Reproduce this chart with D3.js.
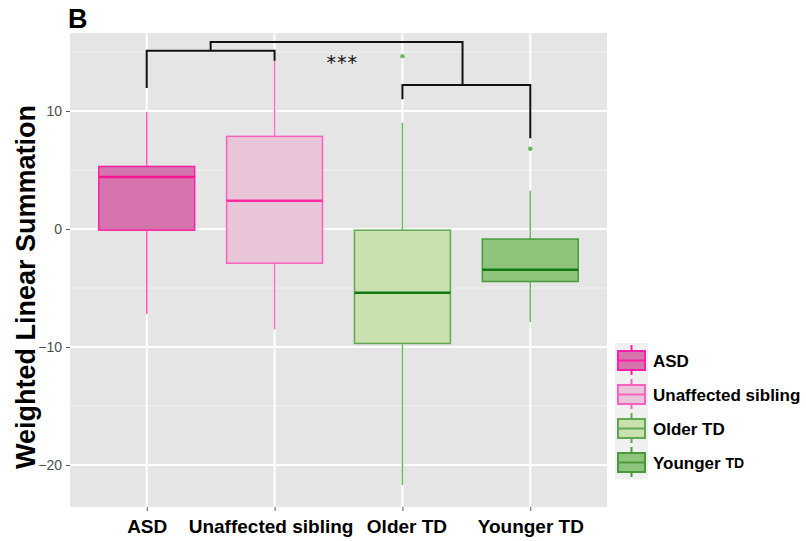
<!DOCTYPE html>
<html>
<head>
<meta charset="utf-8">
<script src="https://cdn.jsdelivr.net/npm/d3@7"></script>
<style>
  body { margin: 0; background: #fff; }
  svg text { font-family: "Liberation Sans", Arial, sans-serif; }
</style>
</head>
<body>
<div id="chart"></div>
<script>
// data
const categories = ["ASD", "Unaffected sibling", "Older TD", "Younger TD"];
const whiskerLow  = [-7.2, -8.5, -21.7, -7.9];
const q1          = [-0.1, -2.9, -9.7, -4.45];
const medians     = [4.4, 2.4, -5.4, -3.45];
const q3          = [5.3, 7.85, -0.1, -0.85];
const whiskerHigh = [9.9, 14.25, 9.0, 3.25];
const outliers    = [[], [], [14.65], [6.8]];
const yTicks      = [-20, -10, 0, 10];
const yMinor      = [-15, -5, 5, 15];

// styles per group
const fills    = ["#d574ad", "#e8c5d8", "#c9e1ae", "#8fc47c"];
const strokes  = ["#ff1fa6", "#f862be", "#62a853", "#4a9a3c"];
const medCols  = ["#ff1493", "#ff2aa0", "#0e7a0e", "#0e7a0e"];
const whisCols = ["#ff52b8", "#ff6cc4", "#6eb862", "#68b45c"];

const W = 806, H = 541;
const panel = {left: 70, top: 33, right: 607, bottom: 507};

const svg = d3.select("#chart").append("svg")
    .attr("width", W)
    .attr("height", H);

// scales
const x = d3.scalePoint()
    .domain(categories)
    .range([panel.left, panel.right])
    .padding(0.6);
const y = d3.scaleLinear()
    .domain([-23.56, 16.61])
    .range([panel.bottom, panel.top]);
const boxW = x.step() * 0.75;

// panel background + grid
svg.append("rect")
    .attr("x", panel.left).attr("y", panel.top)
    .attr("width", panel.right - panel.left)
    .attr("height", panel.bottom - panel.top)
    .attr("fill", "#e5e5e5");

svg.append("g").selectAll("line")
    .data(yMinor)
    .join("line")
    .attr("x1", panel.left).attr("x2", panel.right)
    .attr("y1", d => y(d)).attr("y2", d => y(d))
    .attr("stroke", "#f2f2f2").attr("stroke-width", 1);

svg.append("g").selectAll("line")
    .data(yTicks)
    .join("line")
    .attr("x1", panel.left).attr("x2", panel.right)
    .attr("y1", d => y(d)).attr("y2", d => y(d))
    .attr("stroke", "#fff").attr("stroke-width", 2);

svg.append("g").selectAll("line")
    .data(categories)
    .join("line")
    .attr("x1", d => x(d)).attr("x2", d => x(d))
    .attr("y1", panel.top).attr("y2", panel.bottom)
    .attr("stroke", "#fff").attr("stroke-width", 2);

// axes
const yAxis = svg.append("g")
    .attr("transform", `translate(${panel.left},0)`)
    .call(d3.axisLeft(y).tickValues(yTicks).tickSize(4).tickPadding(4)
        .tickFormat(d => d < 0 ? "\u2212" + Math.abs(d) : d));
yAxis.select(".domain").remove();
yAxis.selectAll("line").attr("stroke", "#555");
yAxis.selectAll("text").attr("fill", "#4d4d4d").style("font-size", "14px");

const xAxis = svg.append("g")
    .attr("transform", `translate(0,${panel.bottom})`)
    .call(d3.axisBottom(x).tickSize(4).tickPadding(9));
xAxis.select(".domain").remove();
xAxis.selectAll("line").attr("stroke", "#555");
xAxis.selectAll("text")
    .attr("fill", "#000")
    .style("font-size", "19px")
    .style("font-weight", "bold");
// labels in the original sit a little apart around the middle pair
xAxis.selectAll("text")
    .attr("dx", d => d === "Unaffected sibling" ? -4 : d === "Older TD" ? 4 : 0);

// boxes
const groups = svg.append("g").selectAll("g")
    .data(categories)
    .join("g");

groups.append("line")
    .attr("x1", d => x(d)).attr("x2", d => x(d))
    .attr("y1", (d, i) => y(whiskerHigh[i])).attr("y2", (d, i) => y(q3[i]))
    .attr("stroke", (d, i) => whisCols[i]).attr("stroke-width", 1.5);
groups.append("line")
    .attr("x1", d => x(d)).attr("x2", d => x(d))
    .attr("y1", (d, i) => y(q1[i])).attr("y2", (d, i) => y(whiskerLow[i]))
    .attr("stroke", (d, i) => whisCols[i]).attr("stroke-width", 1.5);

groups.append("rect")
    .attr("x", d => x(d) - boxW / 2)
    .attr("width", boxW)
    .attr("y", (d, i) => y(q3[i]))
    .attr("height", (d, i) => y(q1[i]) - y(q3[i]))
    .attr("fill", (d, i) => fills[i])
    .attr("stroke", (d, i) => strokes[i])
    .attr("stroke-width", 1.5);

groups.append("line")
    .attr("x1", d => x(d) - boxW / 2).attr("x2", d => x(d) + boxW / 2)
    .attr("y1", (d, i) => y(medians[i])).attr("y2", (d, i) => y(medians[i]))
    .attr("stroke", (d, i) => medCols[i]).attr("stroke-width", 2.5);

groups.selectAll("circle")
    .data((d, i) => outliers[i].map(v => ({cat: d, v: v, i: i})))
    .join("circle")
    .attr("cx", d => x(d.cat))
    .attr("cy", d => y(d.v))
    .attr("r", 2.2)
    .attr("fill", d => whisCols[d.i]);

// significance brackets
const xi = d3.scaleLinear().domain([0, 3]).range([x(categories[0]), x(categories[3])]);
const brackets = [
    [[0, 11.95], [0, 15.1], [1, 15.1], [1, 14.25]],
    [[2, 11.0], [2, 12.2], [3, 12.2], [3, 7.7]],
    [[0.5, 15.1], [0.5, 15.85], [2.47, 15.85], [2.47, 12.2]]
];
const line = d3.line().x(d => xi(d[0])).y(d => y(d[1]));
svg.append("g").selectAll("path")
    .data(brackets)
    .join("path")
    .attr("d", line)
    .attr("fill", "none")
    .attr("stroke", "#111")
    .attr("stroke-width", 2);

svg.append("text")
    .attr("x", xi(1.53))
    .attr("y", y(13.6))
    .attr("text-anchor", "middle")
    .style("font-family", "'DejaVu Sans', sans-serif")
    .style("font-size", "19px")
    .style("letter-spacing", "1px")
    .attr("fill", "#111")
    .text("***");

// y title
svg.append("text")
    .attr("transform", `translate(35,287) rotate(-90)`)
    .attr("text-anchor", "middle")
    .style("font-size", "27px")
    .style("font-weight", "bold")
    .text("Weighted Linear Summation");

// panel letter
svg.append("text")
    .attr("x", 68).attr("y", 28)
    .style("font-size", "27px")
    .style("font-weight", "bold")
    .text("B");

// legend
const legend = svg.append("g").attr("transform", "translate(615,343)");
const keyH = 34;
const items = legend.selectAll("g")
    .data(categories)
    .join("g")
    .attr("transform", (d, i) => `translate(0,${i * keyH})`);

items.append("rect")
    .attr("width", 33).attr("height", keyH)
    .attr("fill", "#f0f0f0");
items.append("line")
    .attr("x1", 16.5).attr("x2", 16.5).attr("y1", 2).attr("y2", 32)
    .attr("stroke", (d, i) => strokes[i]).attr("stroke-width", 2);
items.append("rect")
    .attr("x", 3).attr("y", 8).attr("width", 27).attr("height", 19)
    .attr("fill", (d, i) => fills[i])
    .attr("stroke", (d, i) => strokes[i]).attr("stroke-width", 2);
items.append("line")
    .attr("x1", 3).attr("x2", 30).attr("y1", 17.5).attr("y2", 17.5)
    .attr("stroke", (d, i) => strokes[i]).attr("stroke-width", 2);

const labels = items.append("text")
    .attr("x", 38).attr("y", 18)
    .attr("dominant-baseline", "central")
    .style("font-size", "17px")
    .style("font-weight", "bold");
labels.filter(d => d !== "Younger TD").text(d => d);
const young = labels.filter(d => d === "Younger TD");
young.append("tspan").text("Younger ");
young.append("tspan").style("font-size", "14px").text("TD");
</script>
</body>
</html>
